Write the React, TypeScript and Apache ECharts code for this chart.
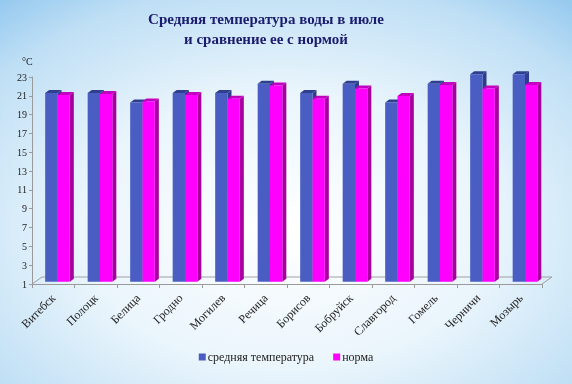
import React, { useEffect, useRef } from "react";
import * as echarts from "echarts";

const cities = ["Витебск", "Полоцк", "Белица", "Гродно", "Могилев", "Речица", "Борисов", "Бобруйск", "Славгород", "Гомель", "Черничи", "Мозырь"];
const avgTemp = [21, 21, 20, 21, 21, 22, 21, 22, 20, 22, 23, 23];
const normTemp = [20.8, 20.9, 20.1, 20.8, 20.4, 21.8, 20.4, 21.5, 20.7, 21.85, 21.5, 21.85];
const seriesNames = ["средняя температура", "норма"];
const titleText = "Средняя температура воды в июле\nи сравнение ее с нормой";
const unitText = "°С";

const SERIF = '"Liberation Serif", "Times New Roman", serif';

const palettes = [
  { front: "#4A5DC2", side: "#2E3D8C", top: "#2F3F8E" },
  { front: "#FF00FF", side: "#A8009F", top: "#C400C0" },
];

function makeRender(seriesIdx: number) {
  return (params: any, api: any) => {
    const cat = api.value(0);
    const val = api.value(1);
    const c = api.coord([cat, val]);
    const b = api.coord([cat, 1]);
    const w = api.size([1, 0])[0];
    const bw = w * 0.29;
    const x0 = c[0] - w * 0.19 + seriesIdx * bw;
    const x1 = x0 + bw;
    const top = c[1] - 2.7;
    const bottom = b[1] - 2.3;
    const dx = 4;
    const dy = -3;
    const p = palettes[seriesIdx];
    return {
      type: "group",
      children: [
        {
          type: "polygon",
          shape: { points: [[x1, top], [x1 + dx, top + dy], [x1 + dx, bottom + dy], [x1, bottom]] },
          style: { fill: p.side },
        },
        {
          type: "polygon",
          shape: { points: [[x0, top], [x0 + dx, top + dy], [x1 + dx, top + dy], [x1, top]] },
          style: { fill: p.top },
        },
        {
          type: "rect",
          shape: { x: x0, y: top, width: bw, height: bottom - top },
          style: { fill: p.front },
        },
      ],
    };
  };
}

export default function App() {
  const ref = useRef<HTMLDivElement>(null);
  useEffect(() => {
    if (!ref.current) return;
    const chart = echarts.init(ref.current, undefined, { renderer: "svg" });
    const gridLeft = 32;
    const gridRight = 30;
    const gridTop = 77;
    const gridBottom = 100;
    const W = 572;
    const H = 384;
    const fx0 = gridLeft;
    const fx1 = W - gridRight;
    const fy = H - gridBottom;
    const depthX = 10;
    const depthY = -7;
    chart.setOption({
      animation: false,
      backgroundColor: {
        type: "radial",
        x: 0.5,
        y: 0.6,
        r: 0.8,
        colorStops: [
          { offset: 0, color: "#ffffff" },
          { offset: 0.45, color: "#eaf5fc" },
          { offset: 0.8, color: "#bfdff5" },
          { offset: 1, color: "#8fc6ee" },
        ],
      },
      grid: { left: gridLeft, right: gridRight, top: gridTop, bottom: gridBottom },
      legend: {
        data: seriesNames,
        left: "center",
        top: 351,
        padding: 0,
        icon: "rect",
        itemWidth: 7,
        itemHeight: 7,
        itemGap: 19,
        textStyle: { fontFamily: SERIF, fontSize: 12, color: "#222", padding: [0, 0, 0, -3] },
      },
      xAxis: {
        type: "category",
        data: cities,
        boundaryGap: true,
        axisLine: { lineStyle: { color: "#9a9a9a" } },
        axisTick: { show: true, alignWithLabel: false, length: 4, lineStyle: { color: "#9a9a9a" } },
        axisLabel: {
          rotate: 45,
          interval: 0,
          margin: 12,
          fontFamily: SERIF,
          fontSize: 12,
          color: "#222",
        },
      },
      yAxis: {
        type: "value",
        min: 1,
        max: 23,
        interval: 2,
        splitLine: { show: false },
        axisLine: { show: true, lineStyle: { color: "#9a9a9a" } },
        axisTick: { show: true, length: 3, lineStyle: { color: "#9a9a9a" } },
        axisLabel: { fontFamily: SERIF, fontSize: 10, color: "#222", margin: 5 },
      },
      graphic: [
        {
          type: "text",
          x: 266,
          y: 9,
          style: {
            text: titleText,
            textAlign: "center",
            textVerticalAlign: "top",
            font: `bold 15px ${SERIF}`,
            lineHeight: 20,
            fill: "#1C1C6E",
          },
        },
        {
          type: "text",
          x: 22,
          y: 56,
          style: { text: unitText, font: `10px ${SERIF}`, fill: "#222" },
        },
        {
          type: "polyline",
          z: 0,
          shape: {
            points: [
              [fx0, fy],
              [fx0 + depthX, fy + depthY],
              [fx1 + depthX, fy + depthY],
              [fx1, fy],
            ],
          },
          style: { stroke: "#a0a0a0", lineWidth: 1, fill: "none" },
        },
      ],
      series: [
        {
          name: seriesNames[0],
          type: "custom",
          itemStyle: { color: palettes[0].front },
          renderItem: makeRender(0),
          data: avgTemp.map((v, i) => [i, v]),
          z: 3,
        },
        {
          name: seriesNames[1],
          type: "custom",
          itemStyle: { color: palettes[1].front },
          renderItem: makeRender(1),
          data: normTemp.map((v, i) => [i, v]),
          z: 4,
        },
      ],
    });
    return () => chart.dispose();
  }, []);
  return <div ref={ref} style={{ position: "fixed", left: 0, top: 0, width: 572, height: 384 }} />;
}
